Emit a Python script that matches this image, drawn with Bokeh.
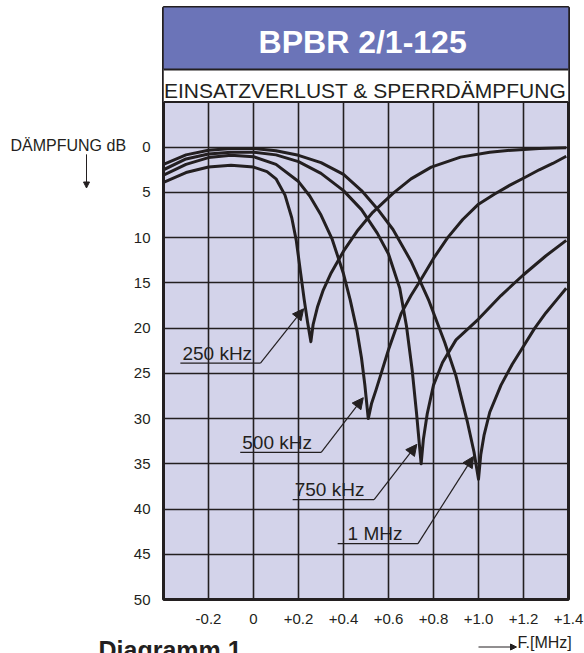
from bokeh.plotting import figure
from bokeh.layouts import row, column
from bokeh.models import Range1d, FixedTicker, Arrow, NormalHead
from bokeh.core.properties import value
from bokeh.embed import file_html
from bokeh.resources import INLINE

# ---------------- data ----------------
x_ticks = [-0.2, 0, 0.2, 0.4, 0.6, 0.8, 1.0, 1.2, 1.4]
x_tick_labels = ["-0.2", "0", "+0.2", "+0.4", "+0.6", "+0.8", "+1.0", "+1.2", "+1.4"]
y_ticks = [0, 5, 10, 15, 20, 25, 30, 35, 40, 45, 50]
y_grid = [-5, 0, 5, 10, 15, 20, 25, 30, 35, 40, 45]
x_grid = [-0.2, 0, 0.2, 0.4, 0.6, 0.8, 1.0, 1.2]

f_1mhz = [-0.4, -0.3, -0.2, -0.1, 0.0, 0.1, 0.2, 0.3, 0.4, 0.48, 0.55, 0.62, 0.7, 0.78,
          0.85, 0.9, 0.95, 0.98, 1.0, 1.01, 1.025, 1.05, 1.1, 1.15, 1.2, 1.25, 1.3, 1.35, 1.39]
db_1mhz = [1.9, 0.85, 0.35, 0.15, 0.15, 0.4, 0.9, 1.7, 3.0, 4.8, 6.8, 9.1, 12.6, 17.0,
           21.6, 25.3, 30.3, 33.7, 36.7, 34.0, 31.8, 29.3, 26.3, 24.0, 22.0, 20.0, 18.3, 16.8, 15.6]

f_750 = [-0.4, -0.3, -0.2, -0.1, 0.0, 0.1, 0.2, 0.3, 0.4, 0.48, 0.55, 0.6, 0.65, 0.68,
         0.705, 0.725, 0.745, 0.755, 0.772, 0.8, 0.84, 0.9, 1.0, 1.1, 1.2, 1.3, 1.39]
db_750 = [2.5, 1.3, 0.75, 0.55, 0.55, 0.85, 1.6, 2.9, 4.8, 6.9, 9.5, 11.8, 15.6, 19.8,
          24.6, 29.5, 35.0, 32.3, 29.5, 26.3, 23.8, 21.3, 19.0, 16.4, 14.1, 12.0, 10.3]

f_500 = [-0.4, -0.3, -0.2, -0.1, 0.0, 0.1, 0.2, 0.25, 0.3, 0.35, 0.4, 0.43, 0.46, 0.48,
         0.495, 0.51, 0.525, 0.545, 0.565, 0.6, 0.656, 0.7, 0.745, 0.8, 0.863, 0.93,
         1.0, 1.07, 1.14, 1.21, 1.27, 1.33, 1.39]
db_500 = [3.1, 1.9, 1.15, 0.9, 1.05, 1.9, 3.8, 5.4, 7.5, 10.2, 14.0, 16.9, 20.3, 23.3,
          26.3, 30.0, 28.3, 26.8, 25.2, 22.4, 18.4, 16.4, 14.6, 12.3, 10.0, 8.0,
          6.3, 5.2, 4.2, 3.3, 2.5, 1.8, 1.0]

f_250 = [-0.4, -0.3, -0.2, -0.1, 0.0, 0.06, 0.1, 0.14, 0.17, 0.19, 0.21, 0.225, 0.24, 0.255,
         0.265, 0.285, 0.31, 0.345, 0.4, 0.46, 0.53, 0.62, 0.7, 0.79, 0.92, 1.05, 1.15, 1.27, 1.39]
db_250 = [3.9, 2.8, 2.2, 2.0, 2.2, 2.7, 3.5, 5.3, 7.8, 10.3, 14.0, 16.8, 19.3, 21.5,
          19.6, 17.6, 15.8, 13.9, 11.5, 9.3, 7.2, 5.1, 3.5, 2.2, 1.1, 0.55, 0.33, 0.15, 0.05]

curve_names = ["250 kHz", "500 kHz", "750 kHz", "1 MHz"]

# ---------------- styling / layout ----------------
INK = "#231f20"
BLUE = "#6b74b8"
GRIDBG = "#d3d3ea"
FONT = "Liberation Sans"
ROW_H = 633

# ---- main chart ----
p = figure(width=454, height=ROW_H,
           x_range=Range1d(-0.4, 1.4), y_range=Range1d(50, -15.44),
           output_backend="svg", toolbar_location=None,
           min_border_left=31, min_border_right=16,
           min_border_top=7, min_border_bottom=34)
p.background_fill_color = GRIDBG
p.border_fill_color = "white"
p.outline_line_color = INK
p.outline_line_width = 3

p.xaxis.ticker = FixedTicker(ticks=x_ticks)
p.xaxis.major_label_overrides = {t: l for t, l in zip(x_ticks, x_tick_labels)}
p.yaxis.ticker = FixedTicker(ticks=y_ticks)
for ax in p.axis:
    ax.axis_line_color = None
    ax.major_tick_line_color = None
    ax.minor_tick_line_color = None
    ax.major_tick_out = 0
    ax.major_tick_in = 0
    ax.minor_tick_out = 0
    ax.major_label_text_font = FONT
    ax.major_label_text_font_size = "15px"
    ax.major_label_text_color = INK
p.yaxis.major_label_standoff = 13
p.xaxis.major_label_standoff = 14

p.xgrid.ticker = FixedTicker(ticks=x_grid)
p.ygrid.ticker = FixedTicker(ticks=y_grid)
for g in (p.xgrid, p.ygrid):
    g.grid_line_color = INK
    g.grid_line_width = 1.6
    g.grid_line_alpha = 1.0

# header blocks
p.quad(left=-0.4, right=1.4, top=-16.5, bottom=-8.59, fill_color=BLUE, line_color=None)
p.quad(left=-0.4, right=1.4, top=-8.59, bottom=-5.0, fill_color="white", line_color=None)
p.segment(x0=[-0.4, -0.4], x1=[1.4, 1.4], y0=[-8.59, -5.0], y1=[-8.59, -5.0],
          line_color=INK, line_width=2)
p.text(x=[0.485], y=[-11.63], text=["BPBR 2/1-125"], text_font=value(FONT),
       text_font_size="32px", text_font_style="bold", text_color="white",
       text_align="center", text_baseline="middle")
p.text(x=[0.4956], y=[-6.32], text=["EINSATZVERLUST & SPERRDÄMPFUNG"], text_font=value(FONT),
       text_font_size="21px", text_color=INK, text_align="center", text_baseline="middle")

# curves
for fx, fy in ((f_250, db_250), (f_500, db_500), (f_750, db_750), (f_1mhz, db_1mhz)):
    p.line(fx, fy, line_color=INK, line_width=3, line_join="round")

# callouts: (text x, text y, underline start, underline end, underline y, tip x, tip y)
callouts = [
    (-0.316, 22.77, -0.325, 0.031, 23.87, 0.223, 17.86),
    (-0.050, 32.61, -0.059, 0.301, 33.73, 0.488, 27.69),
    (0.183, 37.84, 0.174, 0.536, 38.96, 0.726, 32.85),
    (0.418, 42.74, 0.374, 0.731, 43.82, 0.978, 34.18),
]
for name, (tx, ty, ux0, ux1, uy, ax_, ay_) in zip(curve_names, callouts):
    p.text(x=[tx], y=[ty], text=[name], text_font=value(FONT), text_font_size="19px",
           text_color=INK, text_align="left", text_baseline="middle")
    p.segment(x0=[ux0], x1=[ux1], y0=[uy], y1=[uy], line_color=INK, line_width=1.3)
    p.add_layout(Arrow(end=NormalHead(size=11, fill_color=INK, line_color=INK, line_width=1),
                       x_start=ux1, y_start=uy, x_end=ax_, y_end=ay_,
                       line_color=INK, line_width=1.2))

# ---- left strip with the y caption ----
pl = figure(width=130, height=ROW_H, x_range=Range1d(0, 130), y_range=Range1d(ROW_H, 0),
            output_backend="svg", toolbar_location=None,
            x_axis_type=None, y_axis_type=None,
            min_border_left=0, min_border_right=0, min_border_top=0, min_border_bottom=0)
pl.outline_line_color = None
pl.background_fill_color = "white"
pl.border_fill_color = "white"
pl.text(x=[10], y=[147.2], text=["DÄMPFUNG dB"], text_font=value(FONT), text_font_size="16px",
        text_color=INK, text_align="left", text_baseline="middle")
pl.add_layout(Arrow(end=NormalHead(size=6, fill_color=INK, line_color=INK, line_width=1),
                    x_start=86, y_start=157, x_end=86, y_end=193,
                    line_color=INK, line_width=1))

# ---- bottom strip with the captions ----
pc = figure(width=584, height=653 - ROW_H, x_range=Range1d(0, 584), y_range=Range1d(653, ROW_H),
            output_backend="svg", toolbar_location=None,
            x_axis_type=None, y_axis_type=None,
            min_border_left=0, min_border_right=0, min_border_top=0, min_border_bottom=0)
pc.outline_line_color = None
pc.background_fill_color = "white"
pc.border_fill_color = "white"
pc.text(x=[98], y=[649], text=["Diagramm 1"], text_font=value(FONT), text_font_size="25px",
        text_font_style="bold", text_color=INK, text_align="left", text_baseline="middle")
pc.text(x=[517], y=[641.5], text=["F.[MHz]"], text_font=value(FONT), text_font_size="16px",
        text_color=INK, text_align="left", text_baseline="middle")
pc.add_layout(Arrow(end=NormalHead(size=6, fill_color=INK, line_color=INK, line_width=1),
                    x_start=478, y_start=646.5, x_end=516, y_end=646.5,
                    line_color=INK, line_width=1))

layout = column(row(pl, p), pc)
open("out.html", "w").write(file_html(layout, INLINE))
